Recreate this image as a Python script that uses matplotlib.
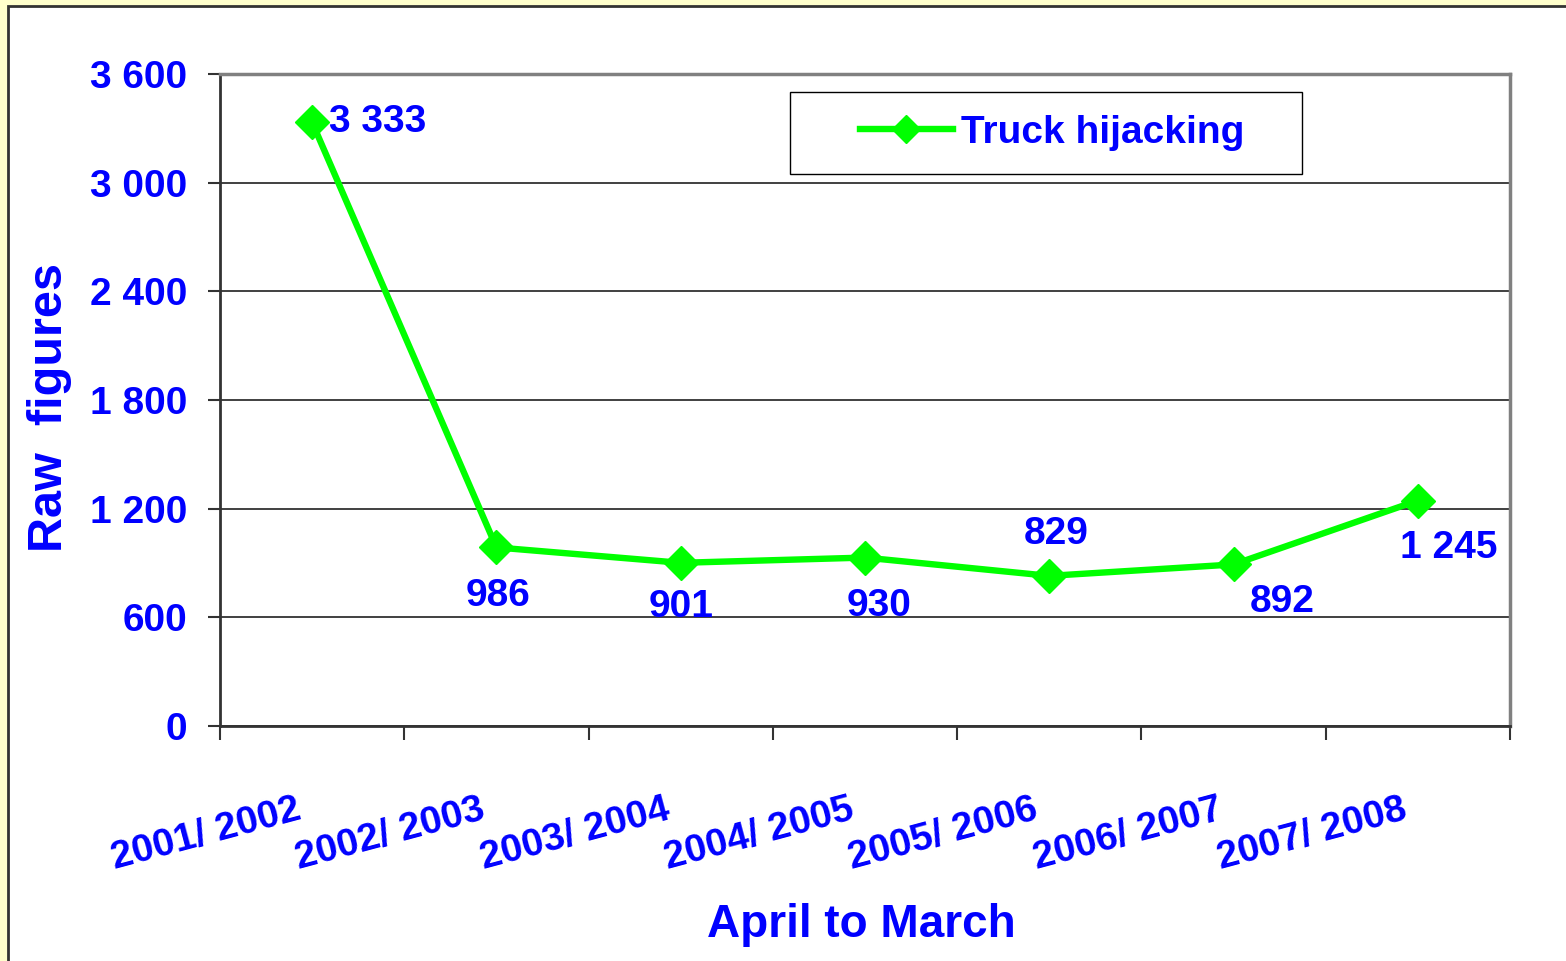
import matplotlib
matplotlib.use("Agg")
import matplotlib.pyplot as plt
from matplotlib.patches import Rectangle
from matplotlib.ticker import FuncFormatter

# ── Data ───────────────────────────────────────────────────────────────────────
seasons    = ["2001/ 2002", "2002/ 2003", "2003/ 2004", "2004/ 2005",
              "2005/ 2006", "2006/ 2007", "2007/ 2008"]
hijackings = [3333, 986, 901, 930, 829, 892, 1245]
y_ticks    = [0, 600, 1200, 1800, 2400, 3000, 3600]
series_name = "Truck hijacking"

# label offsets (points) relative to each marker
label_offsets = [(12, 0), (1, -35), (0, -32), (10, -35), (5, 30), (35, -27), (22, -34)]

BLUE  = "#0000FF"
GREEN = "#00FF00"
W, H  = 1566, 961

plt.rcParams["font.family"] = ["Liberation Sans", "DejaVu Sans"]
plt.rcParams["font.weight"] = "bold"


def fmt(v, _=None):
    return f"{int(v):,}".replace(",", " ")


fig = plt.figure(figsize=(W / 100, H / 100), dpi=100, facecolor="#FFFFCC")
fig.patches.append(Rectangle((8 / W, -0.05), 1.0, 1.05 - 6 / H,
                             transform=fig.transFigure, facecolor="white",
                             edgecolor="#333333", lw=2, zorder=-1))

ax = fig.add_axes([220 / W, 1 - 726 / H, 1290 / W, 652 / H])
x = list(range(len(seasons)))

ax.plot(x, hijackings, color=GREEN, lw=4.6, marker="D", ms=17.5,
        mec=GREEN, mew=1, label=series_name, zorder=3, clip_on=False)

ax.set_xlim(-0.5, len(seasons) - 0.5)
ax.set_ylim(y_ticks[0], y_ticks[-1])

# y axis
ax.set_yticks(y_ticks)
ax.yaxis.set_major_formatter(FuncFormatter(fmt))
ax.tick_params(axis="y", labelsize=28, labelcolor=BLUE, length=8.6,
               width=1.5, color="#333333", pad=15)
ax.yaxis.grid(True, color="#202020", lw=1.2)
ax.set_axisbelow(True)

# x axis: ticks at category boundaries, labels drawn separately
ax.set_xticks([i - 0.5 for i in range(len(seasons) + 1)])
ax.set_xticklabels([])
ax.tick_params(axis="x", length=10, width=1.5, color="#333333")
for i, s in enumerate(seasons):
    ax.annotate(s, xy=(i, 0), xycoords=("data", "axes fraction"),
                xytext=(-12, -47), textcoords="offset points",
                ha="right", va="top", rotation=15, rotation_mode="anchor",
                fontsize=28, color=BLUE, annotation_clip=False)

for side in ("top", "right"):
    ax.spines[side].set_color("#808080")
    ax.spines[side].set_linewidth(2.5)
for side in ("left", "bottom"):
    ax.spines[side].set_color("#333333")
    ax.spines[side].set_linewidth(2)

# data labels
for i, (v, (dx, dy)) in enumerate(zip(hijackings, label_offsets)):
    ax.annotate(fmt(v), xy=(i, v), xytext=(dx, dy), textcoords="offset points",
                ha="left" if i == 0 else "center", va="center",
                fontsize=28, color=BLUE, zorder=5, annotation_clip=False)

# legend with a plain box behind it
ax.add_patch(Rectangle(((790 - 220) / 1290, (726 - 174) / 652), 512 / 1290, 82 / 652,
                       transform=ax.transAxes, facecolor="white",
                       edgecolor="black", lw=1, zorder=4))
ax.legend(loc="center", bbox_to_anchor=((1052 - 220) / 1290, (726 - 133) / 652),
          frameon=False, fontsize=28, handlelength=2.4, handletextpad=0.2,
          markerscale=0.8, labelcolor=BLUE)

fig.text(62 / W, 1 - 407 / H, "Raw  figures", rotation=90, rotation_mode="anchor",
         ha="center", va="baseline", fontsize=35, color=BLUE)
fig.text(861 / W, 1 - 937 / H, "April to March", ha="center", va="baseline",
         fontsize=33, color=BLUE)

fig.savefig("out.png", dpi=100, facecolor=fig.get_facecolor())
